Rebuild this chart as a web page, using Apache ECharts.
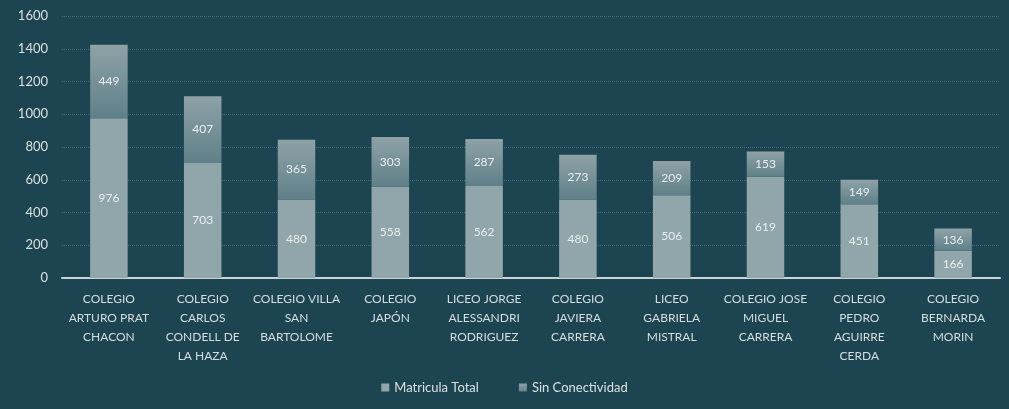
<!DOCTYPE html>
<html>
<head>
<meta charset="utf-8">
<script src="https://cdn.jsdelivr.net/npm/echarts@6/dist/echarts.min.js"></script>
<style>
  html, body { margin: 0; padding: 0; background: #1d4551; }
  #chart { width: 1009px; height: 409px; }
</style>
</head>
<body>
<div id="chart"></div>
<script>
// datos del gráfico
var colegios = [
  'COLEGIO\nARTURO PRAT\nCHACON',
  'COLEGIO\nCARLOS\nCONDELL DE\nLA HAZA',
  'COLEGIO VILLA\nSAN\nBARTOLOME',
  'COLEGIO\nJAPÓN',
  'LICEO JORGE\nALESSANDRI\nRODRIGUEZ',
  'COLEGIO\nJAVIERA\nCARRERA',
  'LICEO\nGABRIELA\nMISTRAL',
  'COLEGIO JOSE\nMIGUEL\nCARRERA',
  'COLEGIO\nPEDRO\nAGUIRRE\nCERDA',
  'COLEGIO\nBERNARDA\nMORIN'
];
var matricula = [976, 703, 480, 558, 562, 480, 506, 619, 451, 166];
var sinConectividad = [449, 407, 365, 303, 287, 273, 209, 153, 149, 136];
var ticksY = [0, 200, 400, 600, 800, 1000, 1200, 1400, 1600];

var chart = echarts.init(document.getElementById('chart'));

var labelStyle = {
  show: true,
  position: 'inside',
  color: '#e8eef0',
  fontFamily: 'Lato',
  fontSize: 12
};

var option = {
  backgroundColor: '#1d4551',
  animation: false,
  grid: {
    left: 62,
    right: 9,
    top: 16,
    bottom: 131
  },
  legend: {
    bottom: 10,
    left: 'center',
    itemWidth: 8,
    itemHeight: 8,
    itemGap: 40,
    icon: 'rect',
    textStyle: { color: '#d8e0e2', fontFamily: 'Lato', fontSize: 13 },
    data: ['Matricula Total', 'Sin Conectividad']
  },
  xAxis: {
    type: 'category',
    data: colegios,
    axisLine: { lineStyle: { color: '#c9d3d6', width: 2 } },
    axisTick: { show: false },
    axisLabel: {
      interval: 0,
      color: '#d4dde0',
      fontFamily: 'Lato',
      fontSize: 12,
      lineHeight: 19,
      margin: 12
    }
  },
  yAxis: {
    type: 'value',
    min: 0,
    max: 1600,
    interval: 200,
    axisLine: { show: false },
    axisTick: { show: false },
    axisLabel: {
      color: '#d8e0e2',
      fontFamily: 'Lato',
      fontSize: 13,
      margin: 14,
      formatter: function (v) { return ticksY.indexOf(v) >= 0 ? String(v) : ''; }
    },
    splitLine: { lineStyle: { color: '#456a74', type: 'dotted', width: 1 } }
  },
  series: [{
    name: 'Matricula Total',
    type: 'bar',
    stack: 'total',
    barWidth: '40%',
    data: matricula,
    label: labelStyle,
    itemStyle: { color: '#90a6ab' }
  }, {
    name: 'Sin Conectividad',
    type: 'bar',
    stack: 'total',
    data: sinConectividad,
    label: labelStyle,
    itemStyle: {
      color: {
        type: 'linear', x: 0, y: 0, x2: 0, y2: 1,
        colorStops: [
          { offset: 0, color: '#8ea2a7' },
          { offset: 1, color: '#5f8089' }
        ]
      }
    }
  }]
};

chart.setOption(option);
</script>
</body>
</html>
